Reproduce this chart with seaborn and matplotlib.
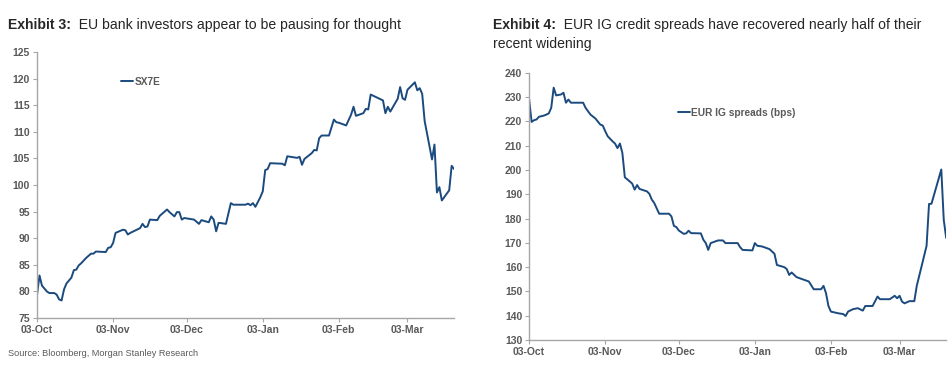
import pandas as pd
import matplotlib.pyplot as plt
import matplotlib.dates as mdates
import seaborn as sns

# SX7E index
sx7e_dates = ['2022-10-03', '2022-10-04', '2022-10-05', '2022-10-07', '2022-10-08', '2022-10-10',
              '2022-10-11', '2022-10-12', '2022-10-13', '2022-10-14', '2022-10-15', '2022-10-17',
              '2022-10-18', '2022-10-19', '2022-10-20', '2022-10-21', '2022-10-23', '2022-10-25',
              '2022-10-26', '2022-10-27', '2022-10-31', '2022-11-01', '2022-11-02', '2022-11-03',
              '2022-11-04', '2022-11-07', '2022-11-08', '2022-11-09', '2022-11-10', '2022-11-14',
              '2022-11-15', '2022-11-16', '2022-11-17', '2022-11-18', '2022-11-21', '2022-11-22',
              '2022-11-25', '2022-11-26', '2022-11-28', '2022-11-29', '2022-11-30', '2022-12-01',
              '2022-12-02', '2022-12-06', '2022-12-08', '2022-12-09', '2022-12-12', '2022-12-13',
              '2022-12-14', '2022-12-15', '2022-12-16', '2022-12-19', '2022-12-21', '2022-12-22',
              '2022-12-27', '2022-12-28', '2022-12-29', '2022-12-30', '2022-12-31', '2023-01-02',
              '2023-01-03', '2023-01-04', '2023-01-05', '2023-01-06', '2023-01-11', '2023-01-12',
              '2023-01-13', '2023-01-17', '2023-01-18', '2023-01-19', '2023-01-20', '2023-01-23',
              '2023-01-24', '2023-01-25', '2023-01-26', '2023-01-27', '2023-01-30', '2023-02-01',
              '2023-02-02', '2023-02-03', '2023-02-06', '2023-02-08', '2023-02-09', '2023-02-10',
              '2023-02-13', '2023-02-14', '2023-02-15', '2023-02-16', '2023-02-21', '2023-02-22',
              '2023-02-23', '2023-02-24', '2023-02-27', '2023-02-28', '2023-03-01', '2023-03-02',
              '2023-03-03', '2023-03-06', '2023-03-07', '2023-03-08', '2023-03-09', '2023-03-10',
              '2023-03-13', '2023-03-14', '2023-03-15', '2023-03-16', '2023-03-17', '2023-03-20',
              '2023-03-21', '2023-03-22']
sx7e_values = [79.4, 83.0, 81.1, 80.0, 79.7, 79.7,
               79.4, 78.5, 78.3, 80.4, 81.5, 82.6,
               84.0, 84.1, 84.9, 85.3, 86.3, 87.1,
               87.1, 87.5, 87.4, 88.2, 88.3, 89.1,
               91.0, 91.6, 91.5, 90.7, 91.0, 91.9,
               92.7, 92.1, 92.2, 93.5, 93.4, 94.2,
               95.4, 94.9, 94.1, 94.9, 94.9, 93.5,
               93.8, 93.5, 92.7, 93.4, 93.0, 94.1,
               93.5, 91.3, 92.9, 92.7, 96.6, 96.3,
               96.3, 96.5, 96.2, 96.6, 95.9, 97.7,
               98.8, 102.8, 103.0, 104.1, 104.0, 103.7,
               105.4, 105.1, 105.3, 103.8, 104.9, 106.0,
               106.6, 106.5, 108.8, 109.3, 109.3, 112.3,
               111.8, 111.7, 111.2, 113.2, 114.7, 113.0,
               113.5, 114.3, 114.2, 117.0, 115.9, 113.5,
               114.7, 113.8, 116.2, 118.4, 116.3, 116.0,
               117.9, 119.3, 117.8, 118.2, 117.1, 112.0,
               104.8, 107.6, 98.6, 99.6, 97.1, 99.0,
               103.6, 103.0]

# EUR IG spreads, bps
ig_dates = ['2022-10-03', '2022-10-04', '2022-10-05', '2022-10-06', '2022-10-07', '2022-10-09',
            '2022-10-10', '2022-10-11', '2022-10-12', '2022-10-13', '2022-10-14', '2022-10-16',
            '2022-10-17', '2022-10-18', '2022-10-19', '2022-10-20', '2022-10-25', '2022-10-26',
            '2022-10-28', '2022-10-30', '2022-11-01', '2022-11-02', '2022-11-03', '2022-11-04',
            '2022-11-06', '2022-11-07', '2022-11-08', '2022-11-09', '2022-11-10', '2022-11-11',
            '2022-11-13', '2022-11-14', '2022-11-15', '2022-11-16', '2022-11-17', '2022-11-20',
            '2022-11-21', '2022-11-22', '2022-11-23', '2022-11-25', '2022-11-29', '2022-11-30',
            '2022-12-01', '2022-12-02', '2022-12-03', '2022-12-05', '2022-12-06', '2022-12-07',
            '2022-12-08', '2022-12-12', '2022-12-13', '2022-12-14', '2022-12-15', '2022-12-16',
            '2022-12-19', '2022-12-21', '2022-12-22', '2022-12-27', '2022-12-28', '2022-12-29',
            '2023-01-02', '2023-01-03', '2023-01-04', '2023-01-06', '2023-01-09', '2023-01-11',
            '2023-01-12', '2023-01-15', '2023-01-16', '2023-01-17', '2023-01-18', '2023-01-20',
            '2023-01-23', '2023-01-25', '2023-01-27', '2023-01-30', '2023-01-31', '2023-02-01',
            '2023-02-02', '2023-02-03', '2023-02-06', '2023-02-08', '2023-02-09', '2023-02-10',
            '2023-02-12', '2023-02-14', '2023-02-16', '2023-02-17', '2023-02-20', '2023-02-22',
            '2023-02-23', '2023-02-27', '2023-03-01', '2023-03-02', '2023-03-03', '2023-03-04',
            '2023-03-05', '2023-03-07', '2023-03-09', '2023-03-10', '2023-03-12', '2023-03-14',
            '2023-03-15', '2023-03-16', '2023-03-20', '2023-03-21', '2023-03-22']
ig_values = [229.0, 219.8, 220.5, 220.8, 221.9, 222.4,
             222.8, 223.3, 225.6, 233.9, 230.7, 231.1,
             231.8, 227.7, 229.0, 227.7, 227.7, 225.6,
             222.8, 221.2, 218.7, 218.3, 216.0, 213.9,
             211.8, 210.9, 209.0, 210.9, 207.0, 197.0,
             195.3, 194.4, 191.9, 193.8, 192.2, 191.2,
             190.2, 187.8, 186.4, 182.0, 182.0, 180.9,
             177.0, 176.5, 175.1, 173.7, 173.9, 175.0,
             174.0, 173.9, 171.3, 169.9, 167.1, 169.9,
             171.0, 171.0, 169.9, 169.9, 168.2, 167.1,
             166.9, 169.9, 168.8, 168.5, 167.4, 165.5,
             160.9, 160.0, 159.2, 156.8, 157.8, 155.9,
             154.8, 154.1, 150.9, 150.9, 152.3, 149.3,
             144.0, 141.7, 141.0, 140.7, 139.9, 141.7,
             142.7, 143.1, 142.1, 144.0, 144.0, 147.9,
             146.8, 146.8, 148.2, 147.2, 148.2, 145.8,
             145.1, 146.0, 146.0, 152.3, 160.5, 168.8,
             186.0, 186.1, 200.2, 179.5, 172.0]

sx7e = pd.DataFrame({'date': pd.to_datetime(sx7e_dates), 'SX7E': sx7e_values})
ig = pd.DataFrame({'date': pd.to_datetime(ig_dates), 'EUR IG spreads (bps)': ig_values})

sns.set_theme(style='ticks')
plt.rcParams['font.family'] = ['Liberation Sans', 'DejaVu Sans']

navy = '#1b4a7e'
axis_grey = '#a6a6a6'
label_grey = '#595959'

fig = plt.figure(figsize=(9.5, 3.66), dpi=100)
ax1 = fig.add_axes([0.039, 0.131, 0.439, 0.727])
ax2 = fig.add_axes([0.557, 0.071, 0.439, 0.730])


def style_axis(ax, ymin, ymax, step):
    ax.set_ylim(ymin, ymax)
    ax.set_yticks(range(ymin, ymax + 1, step))
    ax.set_xlim(pd.Timestamp('2022-10-03'), pd.Timestamp('2023-03-22'))
    ax.xaxis.set_major_locator(mdates.MonthLocator(bymonthday=3))
    ax.xaxis.set_major_formatter(mdates.DateFormatter('%d-%b'))
    ax.set_xlabel('')
    ax.set_ylabel('')
    for side in ['top', 'right']:
        ax.spines[side].set_visible(False)
    for side in ['left', 'bottom']:
        ax.spines[side].set_color(axis_grey)
        ax.spines[side].set_linewidth(1.0)
    ax.tick_params(axis='both', colors=axis_grey, length=3, width=0.8,
                   labelsize=7.5, labelcolor=label_grey, pad=2)
    for lbl in ax.get_xticklabels() + ax.get_yticklabels():
        lbl.set_fontweight('bold')


sns.lineplot(data=sx7e, x='date', y='SX7E', ax=ax1, color=navy, linewidth=1.4, label='SX7E')
style_axis(ax1, 75, 125, 5)
ax1.legend(loc='center left', bbox_to_anchor=(0.18, 0.887), frameon=False,
           handlelength=1.2, handletextpad=0.1, prop={'size': 7.3, 'weight': 'bold'},
           labelcolor=label_grey)

sns.lineplot(data=ig, x='date', y='EUR IG spreads (bps)', ax=ax2, color=navy, linewidth=1.4,
             label='EUR IG spreads (bps)')
style_axis(ax2, 130, 240, 10)
ax2.legend(loc='center left', bbox_to_anchor=(0.335, 0.85), frameon=False,
           handlelength=1.2, handletextpad=0.1, prop={'size': 7.3, 'weight': 'bold'},
           labelcolor=label_grey)

# titles
title_color = '#262626'
tsize = 10.1
t1 = fig.text(0.008, 0.912, 'Exhibit 3:', fontsize=tsize, fontweight='bold', color=title_color,
              va='bottom')
ax1.annotate('  EU bank investors appear to be pausing for thought', xy=(1, 0), xycoords=t1,
             va='bottom', ha='left', fontsize=tsize, color=title_color, annotation_clip=False)
t2 = fig.text(0.519, 0.912, 'Exhibit 4:', fontsize=tsize, fontweight='bold', color=title_color,
              va='bottom')
ax2.annotate('  EUR IG credit spreads have recovered nearly half of their', xy=(1, 0),
             xycoords=t2, va='bottom', ha='left', fontsize=tsize, color=title_color,
             annotation_clip=False)
fig.text(0.519, 0.860, 'recent widening', fontsize=tsize, color=title_color, va='bottom')

fig.text(0.008, 0.027, 'Source: Bloomberg, Morgan Stanley Research', fontsize=6.6,
         color=label_grey)

fig.savefig('out.png', dpi=100)
